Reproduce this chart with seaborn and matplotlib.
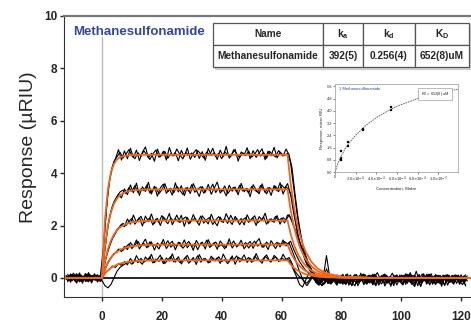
import numpy as np
import pandas as pd
import seaborn as sns
import matplotlib.pyplot as plt
from matplotlib.patches import Rectangle

# sensorgram run 1: one reading per second, -12 s .. 122 s
time_s = np.arange(-12, 123)
# run 2 (replicate) read half a second later: -11.5 s .. 121.5 s
time_rep_s = np.arange(-11.5, 122)

trace_1000uM = [
    0.05, -0.08, 0.12, -0.02, 0.09, -0.11, 0.03, 0.14, -0.06, 0.02,
    -0.10, 0.07, 0.10, 1.90, 3.30, 4.05, 4.45, 4.62, 4.80, 4.58,
    4.72, 4.90, 4.66, 4.55, 4.78, 4.64, 4.85, 4.70, 4.52, 4.74,
    4.88, 4.61, 4.69, 4.83, 4.57, 4.75, 4.66, 4.92, 4.71, 4.54,
    4.80, 4.68, 4.77, 4.60, 4.86, 4.73, 4.58, 4.81, 4.69, 4.95,
    4.64, 4.76, 4.55, 4.82, 4.70, 4.63, 4.89, 4.74, 4.59, 4.78,
    4.67, 4.84, 4.61, 4.72, 4.90, 4.65, 4.79, 4.57, 4.83, 4.70,
    4.62, 4.86, 4.74, 4.68, 4.75, 4.40, 3.50, 2.60, 1.85, 1.30,
    0.85, 0.55, 0.30, 0.12, 0.02, -0.10, -0.05, 0.35, 0.05, -0.12,
    0.06, -0.15, 0.10, -0.04, 0.15, -0.18, 0.02, 0.12, -0.09, 0.05,
    -0.20, 0.08, -0.03, 0.14, -0.12, 0.04, -0.16, 0.10, -0.02, 0.18,
    -0.08, 0.03, -0.14, 0.09, -0.05, 0.20, -0.11, 0.01, 0.13, -0.19,
    0.07, -0.06, 0.16, -0.13, 0.04, -0.08, 0.11, -0.17, 0.05, -0.03,
    0.12, -0.10, 0.03, -0.22, 0.08]
trace_500uM = [
    -0.07, 0.10, -0.03, 0.06, -0.12, 0.08, -0.01, -0.09, 0.11, -0.04,
    0.03, -0.06, 0.00, 1.10, 2.00, 2.55, 2.90, 3.10, 3.28, 3.35,
    3.22, 3.45, 3.30, 3.52, 3.26, 3.40, 3.33, 3.55, 3.24, 3.38,
    3.47, 3.21, 3.36, 3.60, 3.29, 3.42, 3.25, 3.50, 3.35, 3.19,
    3.44, 3.31, 3.56, 3.27, 3.39, 3.48, 3.23, 3.41, 3.34, 3.58,
    3.26, 3.43, 3.30, 3.51, 3.22, 3.37, 3.46, 3.28, 3.54, 3.32,
    3.40, 3.24, 3.49, 3.36, 3.27, 3.53, 3.38, 3.21, 3.45, 3.33,
    3.50, 3.29, 3.55, 3.42, 3.60, 3.20, 2.50, 1.90, 1.40, 1.00,
    0.65, 0.40, 0.20, 0.05, -0.10, -0.22, -0.08, 0.04, -0.15, 0.02,
    -0.12, 0.09, -0.20, 0.03, -0.07, 0.11, -0.16, 0.00, 0.08, -0.13,
    0.05, -0.18, 0.10, -0.06, 0.02, -0.14, 0.12, -0.09, 0.04, -0.21,
    0.07, -0.03, -0.15, 0.09, -0.10, 0.15, -0.05, -0.18, 0.06, -0.02,
    -0.12, 0.10, -0.07, 0.03, -0.19, 0.08, -0.04, 0.12, -0.15, 0.01,
    -0.06, 0.09, -0.16, 0.04, -0.10]
trace_250uM = [
    0.09, -0.05, 0.02, -0.13, 0.06, 0.11, -0.07, 0.04, -0.10, 0.08,
    -0.04, 0.05, -0.05, 0.60, 1.05, 1.40, 1.62, 1.85, 1.95, 2.08,
    2.00, 2.15, 2.28, 2.05, 2.22, 2.35, 2.10, 2.18, 2.30, 2.02,
    2.25, 2.12, 2.38, 2.20, 2.07, 2.29, 2.16, 2.40, 2.11, 2.24,
    2.33, 2.06, 2.19, 2.27, 2.13, 2.36, 2.09, 2.23, 2.31, 2.04,
    2.21, 2.34, 2.14, 2.26, 2.08, 2.39, 2.17, 2.28, 2.03, 2.22,
    2.30, 2.12, 2.25, 2.37, 2.10, 2.20, 2.32, 2.05, 2.24, 2.15,
    2.35, 2.18, 2.28, 2.10, 2.40, 2.30, 2.00, 1.70, 1.40, 1.10,
    0.80, 0.55, 0.32, 0.15, 0.02, -0.12, -0.25, -0.10, 0.05, -0.18,
    0.03, -0.14, 0.08, -0.22, -0.05, 0.10, -0.17, 0.02, -0.09, 0.13,
    -0.11, 0.04, -0.19, 0.07, -0.03, -0.15, 0.11, -0.08, 0.01, -0.20,
    0.09, -0.12, 0.04, -0.06, 0.14, -0.17, 0.02, -0.10, 0.08, -0.14,
    0.03, -0.21, 0.06, -0.04, 0.10, -0.13, -0.01, 0.07, -0.18, 0.04,
    -0.09, 0.11, -0.05, -0.14, 0.02]
trace_125uM = [
    -0.02, 0.07, -0.11, 0.04, 0.13, -0.06, 0.01, -0.14, 0.06, 0.10,
    -0.08, 0.02, 0.02, 0.35, 0.60, 0.78, 0.92, 1.00, 1.10, 1.05,
    1.18, 1.30, 1.12, 1.25, 1.40, 1.20, 1.32, 1.15, 1.38, 1.22,
    1.28, 1.10, 1.35, 1.24, 1.42, 1.17, 1.30, 1.21, 1.36, 1.13,
    1.26, 1.39, 1.19, 1.31, 1.08, 1.33, 1.23, 1.44, 1.16, 1.29,
    1.37, 1.20, 1.27, 1.11, 1.34, 1.25, 1.41, 1.18, 1.30, 1.22,
    1.35, 1.14, 1.28, 1.40, 1.21, 1.32, 1.17, 1.37, 1.24, 1.29,
    1.12, 1.33, 1.26, 1.38, 1.30, 1.40, 1.10, 0.85, 0.62, 0.45,
    0.30, 0.18, 0.06, -0.05, -0.15, -0.08, 0.02, -0.12, -0.20, 0.05,
    -0.10, 0.06, -0.18, -0.03, 0.09, -0.14, 0.01, -0.22, 0.05, -0.07,
    0.12, -0.16, -0.02, 0.07, -0.19, 0.03, -0.09, 0.10, -0.13, 0.00,
    -0.17, 0.05, -0.08, 0.11, -0.20, 0.02, 0.09, -0.12, -0.04, 0.15,
    -0.10, 0.01, -0.16, 0.08, -0.05, -0.23, 0.06, -0.02, 0.10, -0.15,
    0.04, -0.08, 0.12, -0.18, -0.01]
trace_62uM = [
    0.08, -0.10, 0.03, 0.12, -0.04, -0.13, 0.07, 0.00, 0.11, -0.08,
    0.05, -0.12, -0.10, -0.30, -0.38, -0.25, 0.00, 0.25, 0.40, 0.48,
    0.55, 0.62, 0.52, 0.70, 0.58, 0.75, 0.60, 0.68, 0.80, 0.57,
    0.72, 0.63, 0.78, 0.55, 0.69, 0.82, 0.61, 0.74, 0.59, 0.66,
    0.79, 0.56, 0.71, 0.64, 0.85, 0.60, 0.73, 0.67, 0.58, 0.77,
    0.65, 0.81, 0.62, 0.70, 0.54, 0.76, 0.68, 0.84, 0.61, 0.72,
    0.66, 0.78, 0.59, 0.83, 0.70, 0.63, 0.75, 0.88, 0.64, 0.71,
    0.80, 0.62, 0.76, 0.69, 0.72, 0.60, 0.30, 0.05, -0.25, -0.35,
    -0.10, 0.15, 0.05, -0.08, 0.02, -0.12, 0.06, 0.85, 0.10, -0.06,
    0.04, -0.11, 0.08, -0.02, -0.15, 0.07, -0.05, 0.12, -0.18, 0.03,
    -0.07, 0.10, -0.13, 0.05, 0.20, -0.04, 0.08, -0.16, 0.02, -0.09,
    0.06, -0.14, 0.11, -0.01, -0.20, 0.07, -0.06, 0.25, -0.11, 0.03,
    -0.08, 0.14, -0.02, -0.17, 0.05, 0.09, -0.12, 0.01, -0.06, 0.10,
    -0.15, 0.06, -0.03, 0.08, -0.12]

rep_1000uM = [
    -0.12, 0.15, 0.02, -0.18, 0.10, 0.06, -0.14, 0.20, -0.05, 0.08,
    -0.16, 0.12, 1.20, 2.70, 3.70, 4.25, 4.55, 4.90, 4.50, 4.85,
    4.55, 4.95, 4.60, 4.88, 4.48, 4.80, 5.00, 4.58, 4.76, 4.45,
    4.92, 4.62, 4.84, 4.50, 4.98, 4.66, 4.79, 4.47, 4.87, 4.64,
    4.96, 4.53, 4.75, 4.90, 4.56, 4.82, 4.49, 4.94, 4.68, 4.78,
    4.52, 4.88, 4.63, 5.02, 4.57, 4.74, 4.91, 4.46, 4.81, 4.69,
    4.97, 4.55, 4.86, 4.60, 4.77, 4.93, 4.51, 4.84, 4.66, 4.99,
    4.58, 4.80, 4.65, 4.92, 4.70, 4.20, 3.20, 2.30, 1.60, 1.05,
    0.70, 0.42, 0.18, -0.05, -0.20, -0.28, -0.12, 0.06, -0.22, 0.10,
    -0.18, 0.02, -0.25, 0.12, -0.10, -0.30, 0.05, -0.15, 0.18, -0.24,
    0.00, -0.20, 0.14, -0.28, -0.06, 0.09, -0.22, 0.04, -0.32, 0.11,
    -0.14, 0.06, -0.26, 0.16, -0.09, -0.21, 0.08, -0.30, 0.03, -0.12,
    0.14, -0.27, -0.04, 0.10, -0.19, 0.05, -0.29, 0.12, -0.08, -0.24,
    0.07, -0.16, 0.02, -0.31]
rep_500uM = [
    0.14, -0.10, 0.06, -0.20, 0.11, -0.03, 0.17, -0.15, 0.04, -0.08,
    0.10, -0.05, 0.70, 1.60, 2.30, 2.75, 3.00, 3.20, 3.05, 3.40,
    3.18, 3.55, 3.25, 3.62, 3.15, 3.48, 3.30, 3.65, 3.20, 3.50,
    3.12, 3.44, 3.58, 3.23, 3.40, 3.16, 3.63, 3.28, 3.52, 3.14,
    3.46, 3.22, 3.60, 3.35, 3.11, 3.49, 3.27, 3.57, 3.19, 3.43,
    3.66, 3.24, 3.38, 3.13, 3.54, 3.31, 3.47, 3.17, 3.61, 3.29,
    3.42, 3.10, 3.56, 3.36, 3.21, 3.59, 3.26, 3.45, 3.15, 3.53,
    3.32, 3.64, 3.20, 3.48, 3.35, 3.05, 2.30, 1.60, 1.15, 0.80,
    0.50, 0.28, 0.10, -0.08, -0.25, -0.15, 0.05, -0.20, 0.08, -0.12,
    -0.28, 0.04, -0.16, 0.12, -0.24, -0.02, 0.10, -0.30, -0.06, 0.15,
    -0.19, 0.02, -0.27, 0.09, -0.11, -0.23, 0.13, -0.04, -0.29, 0.06,
    -0.15, 0.11, -0.25, -0.01, 0.08, -0.20, -0.33, 0.05, -0.12, 0.16,
    -0.22, 0.03, -0.09, -0.26, 0.10, -0.17, 0.07, -0.28, 0.01, -0.13,
    0.09, -0.24, -0.05, 0.12]
rep_250uM = [
    -0.15, 0.05, 0.18, -0.09, 0.02, -0.20, 0.12, 0.07, -0.11, 0.16,
    -0.06, 0.04, 0.35, 0.85, 1.20, 1.50, 1.70, 1.90, 2.05, 1.95,
    2.25, 2.05, 2.40, 2.12, 2.30, 1.98, 2.36, 2.15, 2.44, 2.08,
    2.28, 2.00, 2.33, 2.19, 2.46, 2.03, 2.26, 2.14, 2.39, 1.97,
    2.31, 2.10, 2.42, 2.18, 2.01, 2.37, 2.22, 2.06, 2.43, 2.16,
    1.99, 2.32, 2.11, 2.45, 2.20, 2.04, 2.35, 2.13, 2.27, 2.02,
    2.41, 2.17, 2.29, 2.00, 2.34, 2.21, 2.47, 2.09, 2.26, 2.12,
    2.38, 2.05, 2.30, 2.20, 2.42, 2.15, 1.85, 1.50, 1.20, 0.90,
    0.62, 0.40, 0.20, 0.02, -0.15, -0.30, -0.20, -0.05, -0.24, 0.08,
    -0.20, -0.04, 0.10, -0.26, 0.02, -0.14, -0.31, 0.06, -0.09, 0.12,
    -0.23, 0.01, -0.17, 0.10, -0.28, -0.07, 0.05, -0.19, -0.02, -0.30,
    0.08, -0.16, 0.03, -0.25, 0.13, -0.10, -0.27, 0.02, -0.18, 0.06,
    -0.24, 0.11, -0.07, -0.20, 0.04, -0.32, 0.09, -0.13, 0.00, -0.22,
    0.10, -0.15, -0.26, 0.05]
rep_125uM = [
    0.06, -0.17, 0.11, -0.04, 0.19, -0.12, 0.03, 0.09, -0.19, 0.05,
    0.12, -0.14, 0.15, 0.45, 0.68, 0.85, 0.95, 1.10, 1.00, 1.20,
    1.08, 1.35, 1.20, 1.45, 1.10, 1.30, 1.48, 1.18, 1.38, 1.06,
    1.33, 1.22, 1.47, 1.12, 1.29, 1.40, 1.07, 1.36, 1.19, 1.45,
    1.15, 1.32, 1.05, 1.43, 1.24, 1.37, 1.10, 1.46, 1.21, 1.34,
    1.09, 1.41, 1.26, 1.16, 1.49, 1.14, 1.31, 1.23, 1.44, 1.11,
    1.28, 1.39, 1.13, 1.35, 1.50, 1.17, 1.30, 1.08, 1.42, 1.25,
    1.36, 1.18, 1.45, 1.22, 1.33, 1.05, 0.75, 0.40, 0.10, -0.15,
    -0.30, -0.12, 0.05, -0.18, -0.28, -0.05, 0.10, -0.22, -0.08, 0.04,
    -0.25, -0.10, 0.14, -0.21, -0.03, -0.29, 0.07, -0.15, 0.03, -0.26,
    -0.06, 0.11, -0.24, -0.01, -0.18, 0.08, -0.31, -0.09, 0.05, -0.20,
    0.12, -0.13, -0.27, 0.04, -0.08, 0.10, -0.22, -0.02, -0.30, 0.07,
    -0.16, 0.03, -0.25, 0.13, -0.11, -0.04, -0.28, 0.06, -0.14, 0.09,
    -0.21, 0.01, -0.12, -0.27]
rep_62uM = [
    -0.10, 0.13, -0.06, 0.16, -0.15, 0.04, -0.02, 0.18, -0.12, 0.07,
    -0.09, 0.08, 0.10, 0.25, 0.32, 0.45, 0.40, 0.55, 0.48, 0.62,
    0.50, 0.74, 0.56, 0.85, 0.63, 0.52, 0.80, 0.66, 0.90, 0.58,
    0.71, 0.87, 0.54, 0.76, 0.64, 0.92, 0.60, 0.81, 0.53, 0.73,
    0.86, 0.62, 0.78, 0.51, 0.89, 0.67, 0.74, 0.57, 0.83, 0.65,
    0.77, 0.55, 0.91, 0.69, 0.61, 0.84, 0.52, 0.79, 0.70, 0.88,
    0.59, 0.75, 0.63, 0.93, 0.68, 0.56, 0.82, 0.72, 0.60, 0.86,
    0.74, 0.64, 0.90, 0.70, 0.78, 0.55, 0.25, 0.10, 0.00, -0.12,
    -0.20, -0.05, 0.12, -0.16, -0.26, 0.03, -0.11, 0.09, -0.19, -0.04,
    0.11, -0.22, -0.07, 0.06, -0.28, -0.01, 0.13, -0.18, -0.09, 0.04,
    -0.24, 0.07, -0.13, -0.30, 0.02, -0.06, 0.15, -0.20, -0.10, 0.05,
    -0.27, -0.03, 0.09, -0.16, 0.01, -0.25, 0.10, -0.08, -0.33, 0.06,
    -0.12, 0.14, -0.21, -0.05, 0.08, -0.26, -0.02, 0.11, -0.17, -0.07,
    0.05, -0.23, 0.03, -0.11]

# global kinetic fit curves (orange), read at these times
fit_time = [-12, 0, 1, 2, 3, 4, 5, 6, 8, 10, 14, 20,
            62, 63, 64, 65, 66, 67, 68, 70, 72, 75, 80, 90, 123]
fit_1000uM = [0, 0, 2.24, 3.41, 4.03, 4.35, 4.52, 4.61, 4.67, 4.69, 4.70, 4.70,
              4.70, 3.64, 2.82, 2.18, 1.69, 1.31, 1.01, 0.61, 0.36, 0.17, 0.05, 0, 0]
fit_500uM = [0, 0, 1.23, 2.01, 2.51, 2.83, 3.03, 3.16, 3.29, 3.34, 3.37, 3.38,
             3.38, 2.62, 2.02, 1.57, 1.21, 0.94, 0.73, 0.44, 0.26, 0.12, 0.03, 0, 0]
fit_250uM = [0, 0, 0.65, 1.11, 1.43, 1.66, 1.82, 1.93, 2.06, 2.13, 2.17, 2.19,
             2.19, 1.70, 1.31, 1.02, 0.79, 0.61, 0.47, 0.28, 0.17, 0.08, 0.02, 0, 0]
fit_125uM = [0, 0, 0.33, 0.58, 0.76, 0.90, 0.99, 1.07, 1.16, 1.21, 1.25, 1.27,
             1.27, 0.98, 0.76, 0.59, 0.46, 0.35, 0.27, 0.16, 0.10, 0.05, 0.01, 0, 0]
fit_62uM = [0, 0, 0.16, 0.29, 0.38, 0.45, 0.50, 0.55, 0.60, 0.63, 0.66, 0.67,
            0.67, 0.52, 0.40, 0.31, 0.24, 0.19, 0.14, 0.09, 0.05, 0.02, 0.01, 0, 0]

# steady-state inset
ss_conc = [5.5e-5, 5.5e-5, 5.5e-5, 1.3e-4, 1.3e-4, 2.7e-4, 2.7e-4, 5.4e-4, 5.4e-4, 1.09e-3, 1.09e-3]
ss_resp = [0.80, 0.92, 1.40, 1.70, 1.95, 2.75, 2.78, 4.05, 4.25, 5.05, 5.20]
ss_fit_conc = [0, 2.5e-5, 5e-5, 1e-4, 1.5e-4, 2e-4, 3e-4, 4e-4, 5e-4, 6e-4, 7e-4, 8e-4, 9e-4, 1e-3, 1.1e-3, 1.2e-3]
ss_fit_resp = [0, 0.50, 0.90, 1.55, 2.00, 2.40, 3.05, 3.55, 3.95, 4.30, 4.55, 4.80, 5.00, 5.15, 5.30, 5.42]

table_header = ['Name', r'k$_\mathregular{a}$', r'k$_\mathregular{d}$', r'K$_\mathregular{D}$']
table_row = ['Methanesulfonamide', '392(5)', '0.256(4)', '652(8)uM']

sns.set_style('ticks')
plt.rcParams['font.family'] = ['Liberation Sans', 'DejaVu Sans']


def long_form(t, series):
    return pd.DataFrame({
        'time': np.tile(t, len(series)),
        'response': np.concatenate([np.array(v) for v in series.values()]),
        'trace': np.repeat(list(series), len(t)),
    })


raw = pd.concat([
    long_form(time_s, {'a1000': trace_1000uM, 'a500': trace_500uM, 'a250': trace_250uM,
                       'a125': trace_125uM, 'a62': trace_62uM}),
    long_form(time_rep_s, {'b1000': rep_1000uM, 'b500': rep_500uM, 'b250': rep_250uM,
                           'b125': rep_125uM, 'b62': rep_62uM}),
])
fitdf = long_form(fit_time, {'1000': fit_1000uM, '500': fit_500uM, '250': fit_250uM,
                             '125': fit_125uM, '62': fit_62uM})

fig = plt.figure(figsize=(4.71, 3.22), dpi=100)
ax = fig.add_axes([64 / 471, 25 / 322, 1 - 64 / 471, 281 / 322])

ax.axvline(0, ymin=0, ymax=0.925, color='#bbbbbb', lw=1, zorder=0)
ax.plot([0, 130], [0, 0], color='black', lw=1.2, zorder=1)

sns.lineplot(data=raw, x='time', y='response', units='trace', estimator=None,
             color='black', lw=0.8, ax=ax, zorder=2)
sns.lineplot(data=fitdf, x='time', y='response', units='trace', estimator=None,
             color='#f0661e', lw=1.3, ax=ax, zorder=3)

ax.set_xlim(-12.7, 123.3)
ax.set_ylim(-0.73, 10)
ax.set_xticks([0, 20, 40, 60, 80, 100, 120])
ax.set_yticks([0, 2, 4, 6, 8, 10])
ax.set_xlabel('')
ax.set_ylabel('Response (µRIU)', fontsize=14)
ax.yaxis.set_label_coords(-0.066, 0.534)
ax.tick_params(axis='both', length=3, width=1, labelsize=8.5)
ax.tick_params(axis='x', pad=7)
ax.tick_params(axis='y', pad=2)
for lab in ax.get_xticklabels() + ax.get_yticklabels():
    lab.set_fontweight('bold')
ax.spines['right'].set_visible(False)
ax.spines['top'].set_color('#777777')
ax.spines['top'].set_linewidth(1.6)
ax.spines['left'].set_color('#333333')
ax.spines['bottom'].set_color('#333333')
ax.text(0.022, 0.965, 'Methanesulfonamide', transform=ax.transAxes, color='#3246a8',
        fontsize=9.5, fontweight='bold', va='top', ha='left')

# parameter table
tax = fig.add_axes([213 / 471, 1 - 67 / 322, 256 / 471, 44 / 322], zorder=5)
tax.axis('off')
tax.add_patch(Rectangle((0.008, -0.05), 1.0, 1.0, transform=tax.transAxes,
                        color='#d0d0d0', clip_on=False, zorder=0))
tbl = tax.table(cellText=[table_row], colLabels=table_header,
                colWidths=[0.43, 0.156, 0.203, 0.211], bbox=[0, 0, 1, 1],
                cellLoc='center')
tbl.set_zorder(2)
tbl.auto_set_font_size(False)
for (r, c), cell in tbl.get_celld().items():
    cell.set_edgecolor('#555555')
    cell.set_linewidth(0.9)
    cell.set_facecolor('white')
    cell.get_text().set_fontsize(7.3)
    cell.get_text().set_fontweight('bold')
    cell.get_text().set_family(['Liberation Sans Narrow', 'Liberation Sans'])

# steady-state affinity inset
iax = fig.add_axes([335 / 471, 1 - 172 / 322, 123 / 471, 88 / 322])
sns.lineplot(x=ss_fit_conc, y=ss_fit_resp, color='#555555', lw=0.6,
             linestyle=(0, (2, 1)), ax=iax)
sns.scatterplot(x=ss_conc, y=ss_resp, color='black', marker='s', s=4,
                edgecolor='black', ax=iax)
iax.set_xlim(0, 1.19e-3)
iax.set_ylim(0, 5.75)
iax.set_xticks([0, 2e-4, 4e-4, 6e-4, 8e-4, 1e-3])
iax.set_xticklabels(['0', r'2.0$\times$10$^{-4}$', r'4.0$\times$10$^{-4}$',
                     r'6.0$\times$10$^{-4}$', r'8.0$\times$10$^{-4}$',
                     r'1.0$\times$10$^{-3}$'])
iax.set_yticks([0, 0.8, 1.6, 2.4, 3.2, 4.0, 4.8, 5.6])
iax.tick_params(length=1.2, width=0.4, labelsize=2.8, pad=1)
for sp in iax.spines.values():
    sp.set_linewidth(0.5)
    sp.set_color('#999999')
iax.set_xlabel('Concentration, Molar', fontsize=3.2, labelpad=1.5)
iax.set_ylabel('Response, micro RIU', fontsize=3.2, labelpad=1.5)
iax.text(0.03, 0.97, '1 Methanesulfonamide', transform=iax.transAxes,
         color='#3246a8', fontsize=3, va='top')
iax.text(0.93, 0.93, r'K$_D$ = 652(8) uM', transform=iax.transAxes, fontsize=2.8,
         ha='right', va='top',
         bbox=dict(boxstyle='square,pad=0.6', fc='white', ec='#888888', lw=0.4))

fig.savefig('out.png', dpi=100)
